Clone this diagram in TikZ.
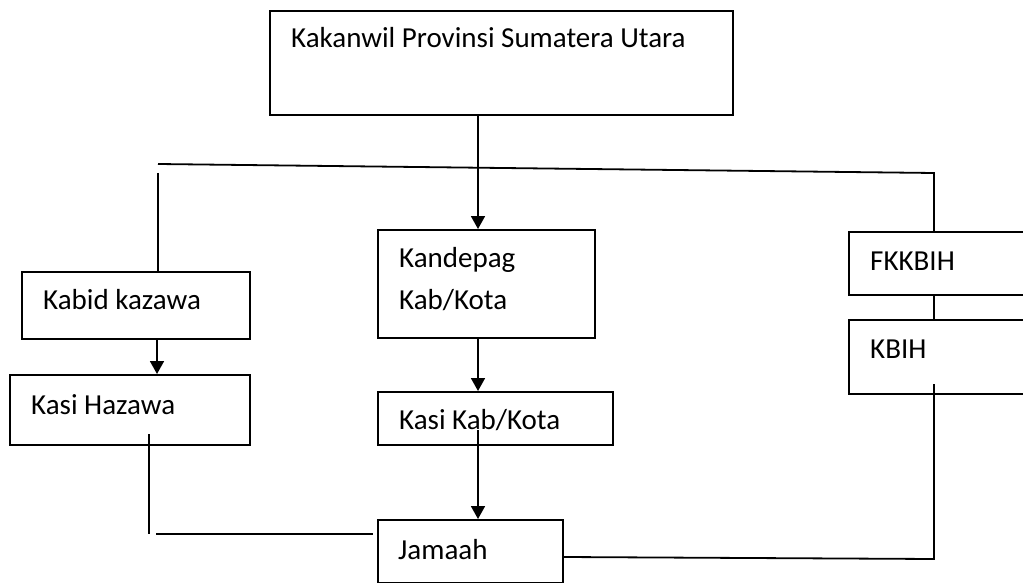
\documentclass[tikz,border=0pt]{standalone}
\usepackage{fontspec}
\setmainfont{Carlito}
\usetikzlibrary{arrows.meta,calc}
\begin{document}
\begin{tikzpicture}[x=1pt,y=-1pt,
  box/.style={draw, line width=1.8pt, rectangle, inner sep=0pt, anchor=north west},
  lbl/.style={anchor=base west, inner sep=0pt, font=\fontsize{29}{34}\selectfont},
  con/.style={line width=1.8pt},
  arr/.style={line width=1.8pt, -{Triangle[width=14pt,length=13pt]}}]
\useasboundingbox (0,0) rectangle (1023,583);
\clip (0,0) rectangle (1023,583);
% boxes
\node[box, minimum width=463pt, minimum height=104pt] (top) at (269,10) {};
\node[box, minimum width=228pt, minimum height=67pt] (kabid) at (21,271) {};
\node[box, minimum width=240pt, minimum height=70pt] (kasih) at (9,374) {};
\node[box, minimum width=217pt, minimum height=108pt] (kandepag) at (377,229) {};
\node[box, minimum width=235pt, minimum height=53pt] (kasik) at (377,391) {};
\node[box, minimum width=185pt, minimum height=63pt] (jamaah) at (377,519) {};
\node[box, minimum width=200pt, minimum height=63pt] (fkkbih) at (848,231) {};
\node[box, minimum width=200pt, minimum height=74pt] (kbih) at (848,319) {};
% labels
\node[lbl] (ttop) at (291,48) {Kakanwil Provinsi Sumatera Utara};
\node[lbl] (tkabid) at (43,309) {Kabid kazawa};
\node[lbl] (tkasih) at (31,414) {Kasi Hazawa};
\node[lbl] (tkand1) at (399,267) {Kandepag};
\node[lbl] (tkand2) at (399,309) {Kab/Kota};
\node[lbl] (tkasik) at (399,429) {Kasi Kab/Kota};
\node[lbl] (tjam) at (398,559) {Jamaah};
\node[lbl] (tfk) at (870,270) {FKKBIH};
\node[lbl] (tkb) at (870,358) {KBIH};
% helper coordinates
\coordinate (cL) at (158,0);
\coordinate (cM) at (478,0);
\coordinate (cR) at (934,0);
\coordinate (hL) at (158,164);
\coordinate (hR) at (934,173);
\coordinate (vL) at (158,173);
\coordinate (kEnd) at (478,430);
\coordinate (hzA) at (149,434);
\coordinate (hzB) at (149,534);
\coordinate (hzC) at (156,534);
\coordinate (hzD) at (373,534);
\coordinate (kbA) at (934,384);
\coordinate (kbB) at (934,559);
% connectors
\draw[con] (hL) -- (hR) -- (fkkbih.north -| cR);
\draw[con] (vL) -- (kabid.north -| cL);
\draw[arr] (top.south -| cM) -- (kandepag.north -| cM);
\draw[arr] (kabid.south -| 157,0) -- (kasih.north -| 157,0);
\draw[arr] (kandepag.south -| cM) -- (kasik.north -| cM);
\draw[arr] (kEnd) -- (jamaah.north -| cM);
\draw[con] (fkkbih.south -| cR) -- (kbih.north -| cR);
\draw[con] (kbA) -- (kbB) -- (jamaah.east |- 0,557);
\draw[con, line width=1.4pt] (hzA) -- (hzB);
\draw[con, line width=1.4pt] (hzC) -- (hzD);
\end{tikzpicture}
\end{document}
